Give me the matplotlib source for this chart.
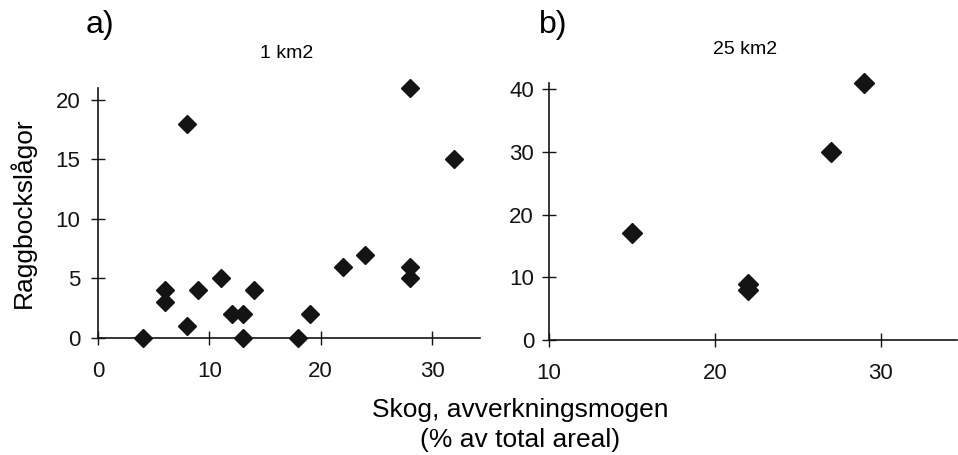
import matplotlib
matplotlib.use("Agg")
import matplotlib.pyplot as plt

plt.rcParams["font.family"] = ["Liberation Sans", "DejaVu Sans"]

# panel a) 1 km2
skog_1km = [4, 6, 6, 8, 8, 9, 11, 12, 13, 13, 14, 18, 19, 22, 24, 28, 28, 28, 32]
lagor_1km = [0, 4, 3, 18, 1, 4, 5, 2, 2, 0, 4, 0, 2, 6, 7, 21, 6, 5, 15]

# panel b) 25 km2
skog_25km = [15, 22, 22, 27, 29]
lagor_25km = [17, 9, 8, 30, 41]

W, H = 958, 455
fig = plt.figure(figsize=(W / 100, H / 100), dpi=100)

def style(ax, ypad):
    ax.spines["top"].set_visible(False)
    ax.spines["right"].set_visible(False)
    for s in ("left", "bottom"):
        ax.spines[s].set_linewidth(1.2)
        ax.spines[s].set_color("#141414")
    ax.tick_params(axis="both", direction="inout", length=9.5, width=1.0,
                   labelsize=16, colors="#141414")
    ax.tick_params(axis="x", pad=12)
    ax.tick_params(axis="y", pad=ypad)

# left panel
ax1 = fig.add_axes([98 / W, 1 - 338 / H, (480 - 98) / W, (338 - 88) / H])
ax1.plot(skog_1km, lagor_1km, linestyle="none", marker="D", markersize=9.2,
         color="#141414", clip_on=False)
ax1.set_xlim(0, 34.3)
ax1.set_ylim(0, 21)
ax1.set_xticks([0, 10, 20, 30])
ax1.set_yticks([0, 5, 10, 15, 20])
style(ax1, 8)
ax1.set_ylabel("Raggbockslågor", fontsize=19, labelpad=14)

# right panel
ax2 = fig.add_axes([549 / W, 1 - 340 / H, (957 - 549) / W, (340 - 83) / H])
ax2.plot(skog_25km, lagor_25km, linestyle="none", marker="D", markersize=9.8,
         color="#141414", clip_on=False)
ax2.set_xlim(10, 34.6)
ax2.set_ylim(0, 41)
ax2.set_xticks([10, 20, 30])
ax2.set_yticks([0, 10, 20, 30, 40])
style(ax2, 6)

fig.text(100 / W, 1 - 25 / H, "a)", fontsize=23, ha="center", va="center")
fig.text(553 / W, 1 - 25 / H, "b)", fontsize=23, ha="center", va="center")
fig.text(287 / W, 1 - 53 / H, "1 km2", fontsize=14, ha="center", va="center")
fig.text(745 / W, 1 - 50 / H, "25 km2", fontsize=14, ha="center", va="center")

fig.text(520 / W, 1 - 425 / H, "Skog, avverkningsmogen\n(% av total areal)",
         fontsize=19, ha="center", va="center", linespacing=1.3)

fig.savefig("out.png", dpi=100)
